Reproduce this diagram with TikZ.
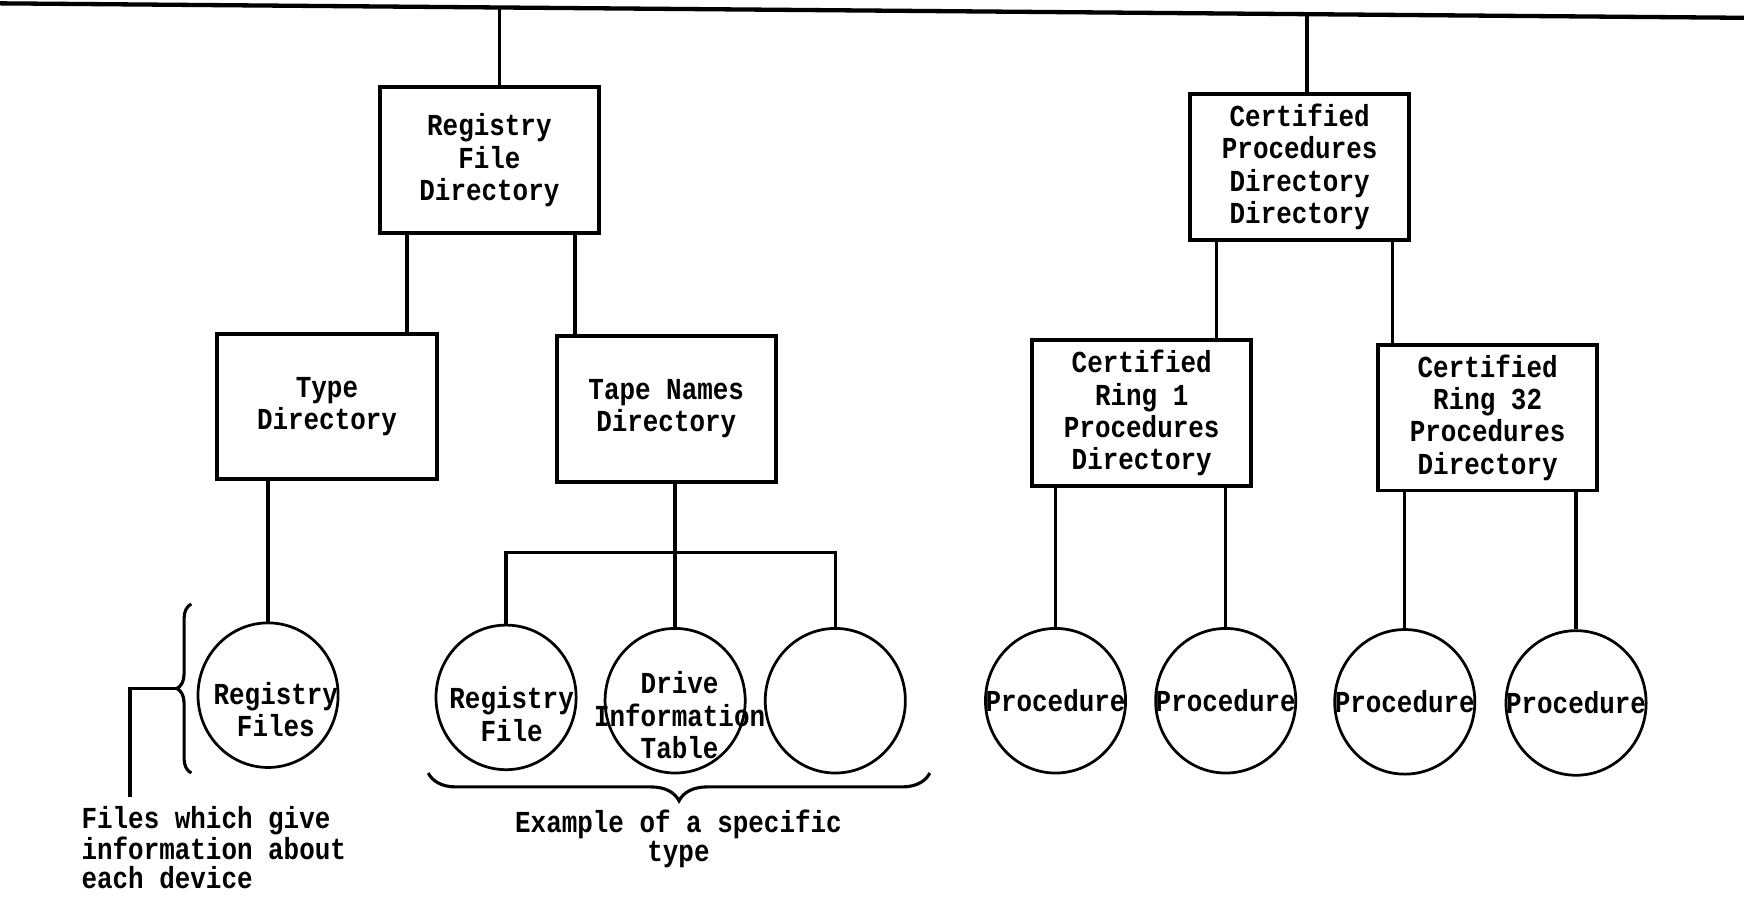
\documentclass[tikz,border=0pt]{standalone}
\usepackage{fontspec}
\setmonofont[FakeStretch=0.85]{Liberation Mono}
\usetikzlibrary{shapes.geometric,decorations.pathreplacing}

\begin{document}
\begin{tikzpicture}[x=0.2mm,y=-0.2mm,
  every node/.style={font=\ttfamily\bfseries\fontsize{15.6}{16.6}\selectfont},
  box/.style={draw,line width=2pt,minimum width=39.4mm,minimum height=26.2mm,align=center,inner sep=0pt},
  file/.style={draw,ellipse,line width=1.4pt,minimum width=25.2mm,minimum height=26mm,inner sep=0pt},
  lab/.style={align=center,inner sep=0pt},
  link/.style={line width=1.7pt},
  curly/.style={line width=1.6pt,decorate,decoration={brace,amplitude=#1}}]
  \useasboundingbox (0,0) rectangle (1568,806);
  % the long line at the top
  \coordinate (busl) at (0,3);
  \coordinate (busr) at (1568,16);
  \draw[line width=2.2pt] (busl) -- (busr);
  \coordinate (tapreg) at (449,6.7);
  \coordinate (tapcert) at (1175,12.7);

  % registry side
  \node[box] (regdir) at (440,144) {Registry\\File\\Directory};
  \node[box] (typedir) at (294,365.5) {Type\\Directory};
  \node[box] (tapedir) at (599,367.5) {Tape Names\\Directory};
  \node[file] (regfiles) at (241,625) {};
  \node[lab] (regfilest) at (248,638) {Registry\\Files};
  \node[file] (regfile) at (455,627) {};
  \node[lab] (regfilet) at (460,642) {Registry\\File};
  \node[file] (drive) at (607,630) {};
  \node[lab] (drivet) at (611,643) {Drive\\Information\\Table};
  \node[file] (other) at (751,630) {};
  \coordinate (xtype) at (366,0);
  \coordinate (xtape) at (517,0);
  \coordinate (bar) at (607,497);
  \draw[link] (tapreg) -- (tapreg |- regdir.north);
  \draw[link] (regdir.south -| xtype) -- (typedir.north -| xtype);
  \draw[link] (regdir.south -| xtape) -- (tapedir.north -| xtape);
  \draw[link] (typedir.south -| regfiles) -- (regfiles);
  \draw[link] (tapedir.south -| bar) -- (drive);
  \draw[link] (regfile) -- (regfile |- bar) -- (other |- bar) -- (other);

  % braces and notes
  \coordinate (brbot) at (172,695);
  \coordinate (brtop) at (172,543);
  \coordinate (brtip) at (159,619);
  \coordinate (lead) at (117,717);
  \draw[curly=2.6mm] (brbot) -- (brtop);
  \draw[line width=2pt] (brtip) -| (lead);
  \node[lab,anchor=north west,align=left,font=\ttfamily\bfseries\fontsize{15.6}{14.8}\selectfont] (devnote) at (73,725) {Files which give\\information about\\each device};
  \coordinate (bral) at (385,695);
  \coordinate (brar) at (836,695);
  \draw[curly=5mm] (brar) -- (bral);
  \node[lab,font=\ttfamily\bfseries\fontsize{15.6}{14.8}\selectfont] (typenote) at (610,754) {Example of a specific\\type};

  % certified procedures side
  \node[box] (certdir) at (1168.5,150) {Certified\\Procedures\\Directory\\Directory};
  \node[box] (ringone) at (1026.5,371.5) {Certified\\Ring 1\\Procedures\\Directory};
  \node[box] (ringlast) at (1337.5,375.5) {Certified\\Ring 32\\Procedures\\Directory};
  \node[file] (proca) at (949,630) {};
  \node[lab] (procat) at (proca) {Procedure};
  \node[file] (procb) at (1102,630) {};
  \node[lab] (procbt) at (procb) {Procedure};
  \node[file] (procc) at (1263,631) {};
  \node[lab] (procct) at (procc) {Procedure};
  \node[file] (procd) at (1417,632) {};
  \node[lab] (procdt) at (procd) {Procedure};
  \coordinate (xone) at (1094,0);
  \coordinate (xlast) at (1252,0);
  \draw[link] (tapcert) -- (tapcert |- certdir.north);
  \draw[link] (certdir.south -| xone) -- (ringone.north -| xone);
  \draw[link] (certdir.south -| xlast) -- (ringlast.north -| xlast);
  \draw[link] (ringone.south -| proca) -- (proca);
  \draw[link] (ringone.south -| procb) -- (procb);
  \draw[link] (ringlast.south -| procc) -- (procc);
  \draw[link] (ringlast.south -| procd) -- (procd);
\end{tikzpicture}
\end{document}
